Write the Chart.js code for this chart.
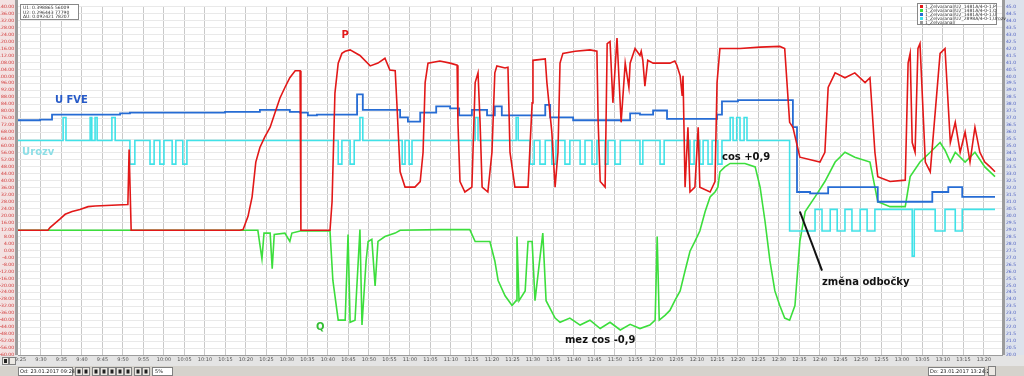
<!DOCTYPE html>
<html>
<head>
<meta charset="utf-8">
<script src="https://cdn.jsdelivr.net/npm/chart.js@4/dist/chart.umd.min.js"></script>
<style>
html, body { margin: 0; padding: 0; background: #fff; }
#box { width: 1024px; height: 376px; position: relative; }
</style>
</head>
<body>
<div id="box"><canvas id="graf"></canvas></div>
<script>
// cas v minutach od 09:00, hodnoty v dilcich osy (0..50)
var pTime = [24.4,31.7,32.2,33.4,34.6,35.9,37.6,39.5,41.5,43.2,51.2,51.5,52.0,78.5,79.3,80.5,81.5,82.4,83.4,84.6,
  85.9,87.1,88.3,89.5,90.7,92.0,93.2,93.4,100.5,101.0,101.7,102.5,103.4,104.2,105.4,107.8,110.3,112.2,113.9,115.1,
  116.4,116.8,117.6,118.8,121.2,122.5,123.2,123.7,124.4,127.3,129.8,131.5,131.7,132.2,133.4,135.1,135.9,136.6,137.1,137.6,
  139.0,140.0,140.7,141.2,143.2,143.9,144.4,145.6,148.8,149.8,150.0,153.0,153.4,154.6,155.4,156.1,156.6,157.3,160.3,163.9,
  165.6,165.9,166.4,167.6,168.1,168.8,169.5,170.5,171.5,172.5,173.4,173.7,174.9,176.1,176.4,176.8,177.3,178.0,179.3,183.4,
  184.6,185.1,185.9,186.4,186.6,187.1,187.8,188.3,189.5,190.3,190.7,193.2,194.4,194.9,195.6,200.5,205.4,210.2,211.4,212.6,
  213.4,215.1,220.0,221.2,222.0,223.7,226.1,228.5,231.0,232.2,233.4,234.1,237.1,240.8,241.5,242.0,242.5,243.2,243.9,244.4,
  245.7,246.9,249.3,250.5,251.8,253.0,254.2,255.4,256.6,257.8,259.0,260.2,261.5,262.7];
var pVal = [17.9,17.9,18.3,18.9,19.5,20.2,20.6,20.9,21.3,21.4,21.6,29.5,17.9,17.9,18.0,19.9,22.7,27.7,29.8,31.3,
  32.7,34.8,36.9,38.4,39.8,40.8,40.8,17.9,17.9,22.0,37.6,41.9,43.3,43.6,43.8,43.0,41.5,41.9,42.6,40.9,
  40.8,36.2,26.3,24.1,24.1,24.9,29.1,39.1,41.9,42.2,41.9,41.6,33.4,24.9,23.4,24.1,39.1,40.5,33.4,24.1,
  23.4,29.1,40.5,41.5,41.2,41.3,29.1,24.1,24.1,36.2,42.3,42.5,39.1,32.0,24.1,29.1,41.9,43.3,43.6,43.8,
  43.6,33.4,24.9,24.1,44.7,45.0,36.2,45.5,33.4,41.9,38.4,41.9,44.0,43.0,43.6,42.3,38.6,42.3,41.9,41.9,
  42.2,41.6,40.1,37.2,40.1,24.1,32.7,23.4,24.1,32.7,24.1,23.4,24.9,39.1,44.0,44.0,44.2,44.3,44.0,33.4,
  32.7,28.4,27.7,29.1,38.4,40.5,39.8,40.5,39.1,39.8,29.1,25.6,24.9,25.1,41.9,43.3,30.5,29.1,44.0,44.7,
  27.7,26.3,43.3,44.0,30.5,33.4,29.1,32.0,27.7,32.7,29.1,27.7,27.0,26.3];

var qTime = [24.4,78.5,82.9,83.9,84.4,85.9,86.4,86.9,89.5,90.7,91.2,93.2,100.5,101.2,102.5,104.2,104.9,105.4,106.6,107.8,
  108.3,109.3,109.8,110.7,111.5,112.2,113.9,116.4,117.6,127.3,134.6,135.9,139.5,140.7,141.5,143.2,144.9,145.9,146.1,146.6,
  148.1,148.8,149.8,150.5,152.4,153.2,155.4,156.6,159.0,161.5,163.9,166.4,168.8,171.3,173.7,176.1,178.5,179.8,180.3,180.8,
  182.2,183.4,184.6,185.9,187.1,188.3,189.5,190.7,192.0,193.2,194.4,195.1,195.6,196.8,198.1,201.7,204.2,205.4,206.6,207.8,
  209.0,210.2,211.4,212.6,213.9,215.1,216.4,218.8,221.2,223.7,226.1,228.5,232.2,233.4,234.1,237.1,240.8,242.0,244.4,246.9,
  249.3,250.5,251.8,253.0,255.4,257.8,260.2,262.7];
var qVal = [17.9,17.9,17.9,13.8,17.5,17.5,12.4,17.3,17.5,16.3,17.5,17.8,17.8,10.7,5.0,5.0,17.3,4.7,5.0,18.0,
  4.3,13.5,16.3,16.6,9.9,16.3,17.0,17.5,17.9,18.0,18.0,16.3,16.3,13.5,10.7,8.5,7.1,7.8,17.0,7.8,
  9.2,16.3,16.3,7.8,17.5,7.8,5.3,4.7,5.3,4.3,5.0,3.8,4.7,3.6,4.4,3.8,4.3,5.0,17.0,5.0,
  5.7,6.4,7.8,9.2,12.1,14.9,16.3,17.8,20.6,22.7,23.4,24.1,26.3,27.0,27.5,27.5,27.0,24.1,19.2,13.5,
  9.2,7.1,5.3,5.0,7.1,16.3,20.6,22.7,24.9,27.7,29.1,28.4,27.7,24.1,22.0,21.3,21.3,25.6,27.7,29.1,
  30.5,29.4,27.7,29.1,27.7,29.1,27.0,25.6];

var uTime = [24.4,29.8,32.7,49.3,51.7,74.9,83.4,90.7,93.2,95.1,97.3,107.1,108.5,117.6,119.5,122.5,126.4,129.8,132.0,135.1,
  138.8,140.7,142.4,153.0,154.2,159.8,173.7,176.1,179.3,182.7,194.9,196.1,200.0,213.4,214.4,217.6,222.0,234.1,247.4,251.3,
  254.7,262.7];
var uVal = [33.7,33.8,34.5,34.7,34.8,34.9,35.2,34.9,34.8,34.4,34.5,37.4,35.2,34.1,33.5,34.8,35.7,35.4,34.4,35.2,
  34.4,35.7,34.4,35.9,34.1,33.7,34.7,34.5,35.1,33.9,34.5,36.4,36.6,32.7,23.4,23.2,24.1,22.0,23.4,24.1,
  22.7,22.7];

var rTime = [24.4,35.4,36.1,42.0,42.4,43.2,43.7,47.3,48.1,51.7,52.9,56.6,57.6,59.0,60.0,62.0,62.9,64.6,65.6,102.5,
  103.4,105.4,106.4,107.8,108.5,118.1,118.8,119.8,120.5,135.9,136.6,145.9,146.4,149.3,150.3,151.7,153.0,154.6,155.6,157.8,
  159.0,161.5,162.7,164.4,165.6,167.6,168.3,170.0,171.3,176.1,176.8,181.0,182.0,188.3,189.3,190.7,191.5,192.7,193.7,195.1,
  196.1,198.1,198.8,199.7,200.5,201.5,202.2,212.6,218.8,220.5,222.5,224.2,226.1,227.8,229.8,231.5,233.4,242.5,243.0,248.1,
  250.5,253.0,254.7,262.7];
var rVal = [30.8,34.1,30.8,34.1,30.8,34.1,30.8,34.1,30.8,27.4,30.8,27.4,30.8,27.4,30.8,27.4,30.8,27.4,30.8,27.4,
  30.8,27.4,30.8,34.1,30.8,27.4,30.8,27.4,30.8,34.1,30.8,34.1,30.8,27.4,30.8,27.4,30.8,27.4,30.8,27.4,
  30.8,27.4,30.8,27.4,30.8,27.4,30.8,27.4,30.8,27.4,30.8,27.4,30.8,27.4,30.8,27.4,30.8,27.4,30.8,27.4,
  30.8,34.1,30.8,34.1,30.8,34.1,30.8,17.8,20.9,17.8,20.9,17.8,20.9,17.8,20.9,17.8,20.9,14.2,20.9,17.8,
  20.9,17.8,20.9,20.9];

// popisky v grafu
var noteText = ['P', 'U FVE', 'Urozv', 'Q', 'cos +0,9', 'mez cos -0,9', 'změna odbočky'];
var noteTime = [104.2, 33.4, 25.4, 98.1, 196.1, 157.8, 220.5];
var noteVal = [45.9, 36.6, 29.1, 4.0, 28.4, 2.1, 10.4];

var legendTexts = ['1_Zelva/anal/U2_1481A/4-0-1,P', '1_Zelva/anal/U2_1481A/4-0-1,Q',
  '1_Zelva/anal/U2_1481A/4-0-1,U', '1_Zelva/anal/U2_2898A/4-0-1,Urozv', '1_Zelva/anal/'];
var infoTexts = ['U1: 0.398865 56009', 'U2: 0.296443 77790', 'ΔU: 0.092421 78207'];

var xTicks = [];
for (var m = 25; m <= 260; m += 5) xTicks.push(m);

function pts(t, v) {
    return t.map(function (x, i) { return { x: x, y: v[i] }; });
}

var data = {
    datasets: [{
        label: 'P',
        data: pts(pTime, pVal),
        borderColor: 'rgb(226, 24, 24)',
        borderWidth: 1.6
    },
    {
        label: 'U FVE',
        data: pts(uTime, uVal),
        borderColor: 'rgb(38, 108, 212)',
        borderWidth: 1.8,
        stepped: true
    },
    {
        label: 'Urozv',
        data: pts(rTime, rVal),
        borderColor: 'rgb(64, 226, 232)',
        borderWidth: 1.6,
        stepped: true
    },
    {
        label: 'Q',
        data: pts(qTime, qVal),
        borderColor: 'rgb(60, 222, 60)',
        borderWidth: 1.6
    }]
};

var frame = {
    id: 'frame',
    beforeDraw: function (chart) {
        var c = chart.ctx;
        c.save();
        c.fillStyle = '#f3e2e2'; c.fillRect(0, 0, 15, 355);
        c.fillStyle = '#9c9c9c'; c.fillRect(15, 0, 3, 355);
        c.fillStyle = '#9c9c9c'; c.fillRect(1002, 0, 3, 355);
        c.fillStyle = '#dde2ec'; c.fillRect(1005, 0, 19, 355);
        c.fillStyle = '#e4e4e4'; c.fillRect(0, 355, 1024, 11);
        c.fillStyle = '#d5d2cc'; c.fillRect(0, 366, 1024, 10);
        c.restore();
    },
    afterDatasetsDraw: function (chart) {
        var c = chart.ctx, xs = chart.scales.x, ys = chart.scales.y;
        var cols = ['rgb(226,24,24)', 'rgb(38,90,200)', 'rgb(140,222,230)', 'rgb(50,190,50)', '#111', '#111', '#111'];
        c.save();
        // sipka k zmene odbocky
        c.strokeStyle = '#111'; c.lineWidth = 2;
        c.beginPath();
        c.moveTo(xs.getPixelForValue(215.1), ys.getPixelForValue(20.6));
        c.lineTo(xs.getPixelForValue(220.5), ys.getPixelForValue(12.1));
        c.stroke();
        c.textBaseline = 'middle';
        noteText.forEach(function (t, i) {
            c.font = 'bold 10px "DejaVu Sans"';
            c.fillStyle = cols[i];
            c.textAlign = i == 0 || i == 3 ? 'center' : 'left';
            c.fillText(t, xs.getPixelForValue(noteTime[i]), ys.getPixelForValue(noteVal[i]));
        });
        // info box vlevo nahore
        c.fillStyle = '#fff'; c.strokeStyle = '#888'; c.lineWidth = 1;
        c.fillRect(20.5, 4.5, 58, 15); c.strokeRect(20.5, 4.5, 58, 15);
        c.fillStyle = '#333'; c.font = '4.5px "DejaVu Sans"'; c.textAlign = 'left';
        infoTexts.forEach(function (t, i) { c.fillText(t, 23, 8 + i * 4.5); });
        // legenda vpravo nahore
        var lc = ['rgb(226,24,24)', 'rgb(60,222,60)', 'rgb(38,108,212)', 'rgb(64,226,232)', '#999'];
        c.fillStyle = '#fff'; c.strokeStyle = '#888';
        c.fillRect(917.5, 3.5, 79, 21); c.strokeRect(917.5, 3.5, 79, 21);
        legendTexts.forEach(function (t, i) {
            c.fillStyle = lc[i]; c.fillRect(920, 5 + i * 4, 3, 3);
            c.fillStyle = '#333'; c.fillText(t, 925, 6.8 + i * 4);
        });
        c.restore();
    },
    afterDraw: function (chart) {
        var c = chart.ctx;
        c.save();
        c.strokeStyle = '#808080'; c.lineWidth = 1;
        c.fillStyle = '#fff';
        c.fillRect(18.5, 367.5, 54, 8); c.strokeRect(18.5, 367.5, 54, 8);
        c.fillRect(928.5, 367.5, 56, 8); c.strokeRect(928.5, 367.5, 56, 8);
        c.fillStyle = '#222'; c.font = '5px "DejaVu Sans"'; c.textBaseline = 'middle';
        c.fillText('Od: 23.01.2017 09:24:24', 20, 371.5);
        c.fillText('Do: 23.01.2017 13:24:24', 930, 371.5);
        var btn = [75, 82, 92, 100, 108, 116, 124, 134, 142];
        btn.forEach(function (b) {
            c.fillStyle = '#ece9e4'; c.fillRect(b + 0.5, 367.5, 7, 8); c.strokeRect(b + 0.5, 367.5, 7, 8);
            c.fillStyle = '#222'; c.fillRect(b + 2.5, 369.5, 3, 4);
        });
        c.fillStyle = '#fff'; c.fillRect(152.5, 367.5, 20, 8); c.strokeRect(152.5, 367.5, 20, 8);
        c.fillStyle = '#222'; c.fillText('5%', 155, 371.5);
        c.fillStyle = '#ece9e4';
        c.fillRect(988.5, 366.5, 7, 9); c.strokeRect(988.5, 366.5, 7, 9);
        c.fillRect(2.5, 357.5, 6, 7); c.strokeRect(2.5, 357.5, 6, 7);
        c.fillRect(9.5, 357.5, 6, 7); c.strokeRect(9.5, 357.5, 6, 7);
        c.fillStyle = '#222'; c.fillRect(4, 359, 3, 4);
        c.restore();
    }
};

var options = {
    responsive: true,
    maintainAspectRatio: false,
    animation: false,
    events: [],
    layout: { padding: { top: 3, bottom: 10, left: 0, right: 0 } },
    elements: { point: { radius: 0 }, line: { tension: 0 } },
    plugins: { legend: { display: false }, tooltip: { enabled: false } },
    scales: {
        x: {
            type: 'linear',
            min: 24.4,
            max: 264.4,
            afterBuildTicks: function (s) { s.ticks = xTicks.map(function (v) { return { value: v }; }); },
            afterFit: function (s) { s.height = 11; },
            ticks: {
                autoSkip: false, maxRotation: 0, padding: 2,
                color: '#555', font: { size: 5, family: 'DejaVu Sans' },
                callback: function (v) {
                    var h = Math.floor(v / 60) + 9, mm = Math.round(v % 60);
                    return h + ':' + (mm < 10 ? '0' : '') + mm;
                }
            },
            grid: { color: '#c9c9c9', drawTicks: false },
            border: { color: '#9c9c9c' }
        },
        y: {
            position: 'left',
            min: 0,
            max: 50,
            afterFit: function (s) { s.width = 18; },
            ticks: {
                stepSize: 1, autoSkip: false, padding: 4,
                color: '#d03030', font: { size: 4.5, family: 'DejaVu Sans' },
                callback: function (v) { return (v * 4 - 60).toFixed(2); }
            },
            grid: { color: '#e9e9e9', drawTicks: false },
            border: { display: false }
        },
        y2: {
            position: 'right',
            min: 0,
            max: 50,
            afterFit: function (s) { s.width = 22; },
            ticks: {
                stepSize: 1, autoSkip: false, padding: 4,
                color: '#4a5cc0', font: { size: 4.5, family: 'DejaVu Sans' },
                callback: function (v) { return (20 + v * 0.5).toFixed(1); }
            },
            grid: { drawOnChartArea: false, drawTicks: false },
            border: { display: false }
        }
    }
};

var ctx = document.querySelector('#graf').getContext('2d');
var chart = new Chart(ctx, {
    type: 'line',
    data: data,
    options: options,
    plugins: [frame]
});
</script>
</body>
</html>
